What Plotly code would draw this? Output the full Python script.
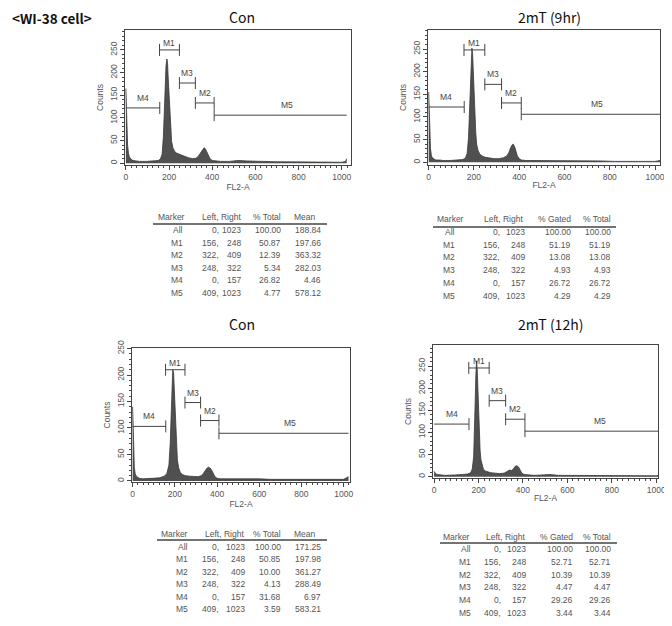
import plotly.graph_objects as go

# page is 672x626; the browser body has an 8px margin, so the figure is drawn 8px in
PAGE_W, PAGE_H = 672, 626
OFF = 8
W, H = PAGE_W - OFF, PAGE_H - OFF

# ---------------- data ----------------
figure_label = "<WI-38 cell>"
panel_titles = ["Con", "2mT (9hr)", "Con", "2mT (12h)"]

# histogram channel (FL2-A) / counts
p1_channel = [0, 4, 8, 12, 16, 24, 32, 48, 64, 96, 128, 150, 160, 168, 174, 178, 182, 186, 190, 193,
              196, 200, 204, 208, 212, 218, 226, 236, 250, 270, 290, 310, 325, 335, 345, 355, 362, 368,
              375, 382, 390, 400, 415, 440, 480, 520, 560, 600, 650, 700, 760, 820, 880, 940, 1000, 1018, 1023]
p1_counts = [165, 90, 40, 22, 14, 9, 6, 5, 4, 4, 5, 6, 9, 20, 60, 120, 175, 215, 230, 222,
             190, 150, 105, 70, 48, 34, 26, 22, 19, 15, 12, 10, 11, 15, 22, 30, 34, 32,
             26, 18, 10, 6, 5, 4, 4, 6, 5, 4, 4, 3, 3, 3, 2, 2, 2, 4, 10]

p2_channel = [0, 4, 8, 12, 16, 24, 32, 48, 64, 96, 128, 150, 162, 170, 176, 180, 184, 188, 191, 194,
              197, 200, 204, 208, 212, 218, 226, 236, 250, 270, 290, 310, 330, 345, 355, 362, 368, 374,
              380, 386, 392, 400, 410, 430, 470, 520, 560, 600, 650, 700, 760, 820, 880, 940, 1000, 1023]
p2_counts = [155, 70, 30, 15, 10, 7, 5, 5, 4, 4, 5, 6, 9, 20, 55, 110, 180, 235, 252, 240,
             200, 150, 100, 65, 40, 26, 18, 14, 11, 9, 8, 8, 10, 14, 22, 32, 38, 40,
             34, 24, 14, 8, 5, 4, 4, 4, 3, 3, 3, 3, 3, 2, 2, 2, 2, 4]

p3_channel = [0, 4, 8, 12, 16, 24, 32, 48, 64, 96, 128, 150, 162, 172, 178, 182, 186, 190, 194, 197,
              200, 204, 208, 212, 218, 226, 236, 250, 270, 290, 310, 325, 335, 345, 352, 360, 368, 375,
              382, 390, 400, 415, 440, 480, 520, 560, 600, 650, 700, 760, 820, 880, 940, 1000, 1023]
p3_counts = [140, 60, 25, 14, 10, 7, 5, 4, 4, 5, 6, 9, 14, 30, 70, 130, 185, 210, 205, 175,
             135, 95, 62, 40, 25, 16, 12, 10, 9, 8, 8, 10, 14, 20, 24, 26, 24, 20,
             14, 8, 5, 4, 4, 4, 5, 4, 4, 3, 3, 3, 3, 2, 2, 3, 8]

p4_channel = [0, 4, 8, 16, 24, 32, 48, 64, 96, 128, 150, 165, 172, 178, 182, 185, 188, 191, 194, 197,
              200, 203, 207, 211, 216, 222, 230, 240, 255, 275, 295, 315, 330, 340, 348, 356, 364, 372,
              380, 388, 395, 405, 420, 450, 490, 520, 560, 600, 650, 700, 760, 820, 880, 940, 1000, 1018, 1023]
p4_counts = [12, 8, 6, 5, 4, 4, 3, 3, 4, 5, 6, 9, 18, 45, 100, 170, 230, 262, 245, 195,
             140, 95, 60, 38, 25, 17, 13, 11, 9, 8, 7, 8, 12, 15, 14, 17, 23, 25,
             22, 14, 8, 5, 4, 3, 4, 5, 3, 3, 3, 3, 3, 2, 2, 2, 2, 4, 18]

# marker table (shared gates)
marker_names = ["All", "M1", "M2", "M3", "M4", "M5"]
marker_left = [0, 156, 322, 248, 0, 409]
marker_right = [1023, 248, 409, 322, 157, 1023]

t1_headers = ["Marker", "Left, Right", "% Total", "Mean"]
t1_col3 = ["100.00", "50.87", "12.39", "5.34", "26.82", "4.77"]
t1_col4 = ["188.84", "197.66", "363.32", "282.03", "4.46", "578.12"]

t2_headers = ["Marker", "Left, Right", "% Gated", "% Total"]
t2_col3 = ["100.00", "51.19", "13.08", "4.93", "26.72", "4.29"]
t2_col4 = ["100.00", "51.19", "13.08", "4.93", "26.72", "4.29"]

t3_headers = ["Marker", "Left, Right", "% Total", "Mean"]
t3_col3 = ["100.00", "50.85", "10.00", "4.13", "31.68", "3.59"]
t3_col4 = ["171.25", "197.98", "361.27", "288.49", "6.97", "583.21"]

t4_headers = ["Marker", "Left, Right", "% Gated", "% Total"]
t4_col3 = ["100.00", "52.71", "10.39", "4.47", "29.26", "3.44"]
t4_col4 = ["100.00", "52.71", "10.39", "4.47", "29.26", "3.44"]

y_ticks = [0, 50, 100, 150, 200, 250]
x_ticks = [0, 200, 400, 600, 800, 1000]

# ---------------- layout config (page pixel positions) ----------------
hists = [(p1_channel, p1_counts), (p2_channel, p2_counts), (p3_channel, p3_counts), (p4_channel, p4_counts)]
tables = [(t1_headers, t1_col3, t1_col4), (t2_headers, t2_col3, t2_col4),
          (t3_headers, t3_col3, t3_col4), (t4_headers, t4_col3, t4_col4)]

panels = [
    dict(box=(125, 30, 351, 165), xr=[-4, 1043], yr=[-4, 294], title=(242, 17),
         levels=[250, 133, 177, 122, 106],
         tab=dict(cols=[185, 221, 243, 283, 323], hdr=[187, 243, 283, 318], hy=217,
                  line=(153, 327, 224), ry0=230, step=12.6)),
    dict(box=(428, 30, 660, 165), xr=[-3, 1022], yr=[-6, 292], title=(549, 17),
         levels=[248, 131, 172, 122, 106],
         tab=dict(cols=[457, 502, 527, 573, 613], hdr=[466, 525, 573, 613], hy=219,
                  line=(433, 616, 227), ry0=232, step=12.7)),
    dict(box=(132, 348, 350, 482), xr=[-3, 1030], yr=[-2, 251], title=(242, 324),
         levels=[210, 114, 148, 103, 90],
         tab=dict(cols=[190, 221, 247, 283, 323], hdr=[190, 246, 283, 318], hy=534,
                  line=(157, 327, 540), ry0=547, step=12.4)),
    dict(box=(433, 345, 658, 478), xr=[-5, 1008], yr=[-3, 298], title=(550, 324),
         levels=[246, 130, 172, 119, 103],
         tab=dict(cols=[473, 503, 528, 575, 613], hdr=[472, 527, 575, 613], hy=537,
                  line=(440, 617, 543), ry0=549, step=12.8)),
]

AX = "#444444"
TXT = "#555555"
TAB_FONT = dict(family="Liberation Sans, Arial", size=8.5, color=TXT)

fig = go.Figure()
shapes = []
annotations = []


def px(x):
    return (x - OFF) / W


def py(y):
    return 1 - (y - OFF) / H


for i, p in enumerate(panels):
    n = i + 1
    xa = "x" if n == 1 else f"x{n}"
    ya = "y" if n == 1 else f"y{n}"
    ch, cnt = hists[i]
    fig.add_trace(go.Scatter(x=ch, y=cnt, xaxis=xa, yaxis=ya, mode="lines", fill="tozeroy",
                             line=dict(color="#383838", width=0.8), fillcolor="#505050",
                             hoverinfo="skip", showlegend=False))
    L, T, R, B = p["box"]
    common = dict(showgrid=False, zeroline=False, showline=True, mirror=True, linecolor=AX,
                  linewidth=1, ticks="outside", ticklen=4, tickcolor=AX, tickwidth=1,
                  automargin=False,
                  tickfont=dict(family="Liberation Sans, Arial", size=8.5, color=TXT))
    fig.layout["xaxis" if n == 1 else f"xaxis{n}"] = dict(
        domain=[px(L), px(R)], range=p["xr"], anchor=ya, tickvals=x_ticks,
        minor=dict(dtick=25, tick0=0, ticks="outside", ticklen=2, tickcolor=AX),
        title=dict(text="FL2-A", font=dict(family="Liberation Sans, Arial", size=8.5, color=TXT), standoff=0),
        **common)
    fig.layout["yaxis" if n == 1 else f"yaxis{n}"] = dict(
        domain=[py(B), py(T)], range=p["yr"], anchor=xa, tickvals=y_ticks, tickangle=-90,
        minor=dict(dtick=10, tick0=0, ticks="outside", ticklen=2, tickcolor=AX),
        title=dict(text="Counts", font=dict(family="Liberation Sans, Arial", size=8.5, color=TXT), standoff=3),
        **common)

    # gate bars
    for g in range(1, 6):
        gl, gr = marker_left[g], marker_right[g]
        h = p["levels"][g - 1]
        shapes.append(dict(type="line", xref=xa, yref=ya, x0=gl, x1=gr, y0=h, y1=h,
                           line=dict(color=AX, width=1)))
        ends = [gl, gr]
        if marker_names[g] == "M4":
            ends = [gr]
        if marker_names[g] == "M5":
            ends = [gl]
        for e in ends:
            shapes.append(dict(type="line", xref=xa, yref=ya, ysizemode="pixel", yanchor=h,
                               x0=e, x1=e, y0=-6, y1=6, line=dict(color=AX, width=1)))
        lx = (gl + gr) / 2 if marker_names[g] != "M5" else 745
        annotations.append(dict(x=lx, y=h, xref=xa, yref=ya, text=marker_names[g], showarrow=False,
                                yshift=7 if marker_names[g] == "M1" else 10,
                                font=dict(family="Liberation Sans, Arial", size=8.5, color="#444")))

    # panel title
    tx, ty = p["title"]
    annotations.append(dict(x=px(tx), y=py(ty), xref="paper", yref="paper", text=panel_titles[i],
                            showarrow=False, xanchor="center", yanchor="middle",
                            font=dict(family="Noto Sans CJK KR, Noto Sans", size=14, color="#111")))

    # table
    hdrs, c3, c4 = tables[i]
    tb = p["tab"]
    for k, htxt in enumerate(hdrs):
        annotations.append(dict(x=px(tb["hdr"][k]), y=py(tb["hy"]), xref="paper", yref="paper",
                                text=htxt, showarrow=False, xanchor="right", yanchor="middle",
                                font=TAB_FONT))
    lx0, lx1, ly = tb["line"]
    shapes.append(dict(type="line", xref="paper", yref="paper", x0=px(lx0), x1=px(lx1),
                       y0=py(ly), y1=py(ly), line=dict(color=AX, width=1.3)))
    for r in range(6):
        yy = py(tb["ry0"] + r * tb["step"])
        cells = [marker_names[r], f"{marker_left[r]},", str(marker_right[r]), c3[r], c4[r]]
        for k, ctxt in enumerate(cells):
            annotations.append(dict(x=px(tb["cols"][k]), y=yy, xref="paper", yref="paper",
                                    text=ctxt, showarrow=False, xanchor="right", yanchor="middle",
                                    font=TAB_FONT))

label_html = figure_label.replace("<", "&lt;").replace(">", "&gt;")
annotations.append(dict(x=px(10), y=py(18), xref="paper", yref="paper", text=f"<b>{label_html}</b>",
                        showarrow=False, xanchor="left", yanchor="middle",
                        font=dict(family="Noto Sans CJK KR, Noto Sans", size=13.5, color="#111")))

fig.update_layout(width=W, height=H, margin=dict(l=0, r=0, t=0, b=0, autoexpand=False),
                  paper_bgcolor="white", plot_bgcolor="white",
                  shapes=shapes, annotations=annotations, showlegend=False)

fig.write_html("out.html")
